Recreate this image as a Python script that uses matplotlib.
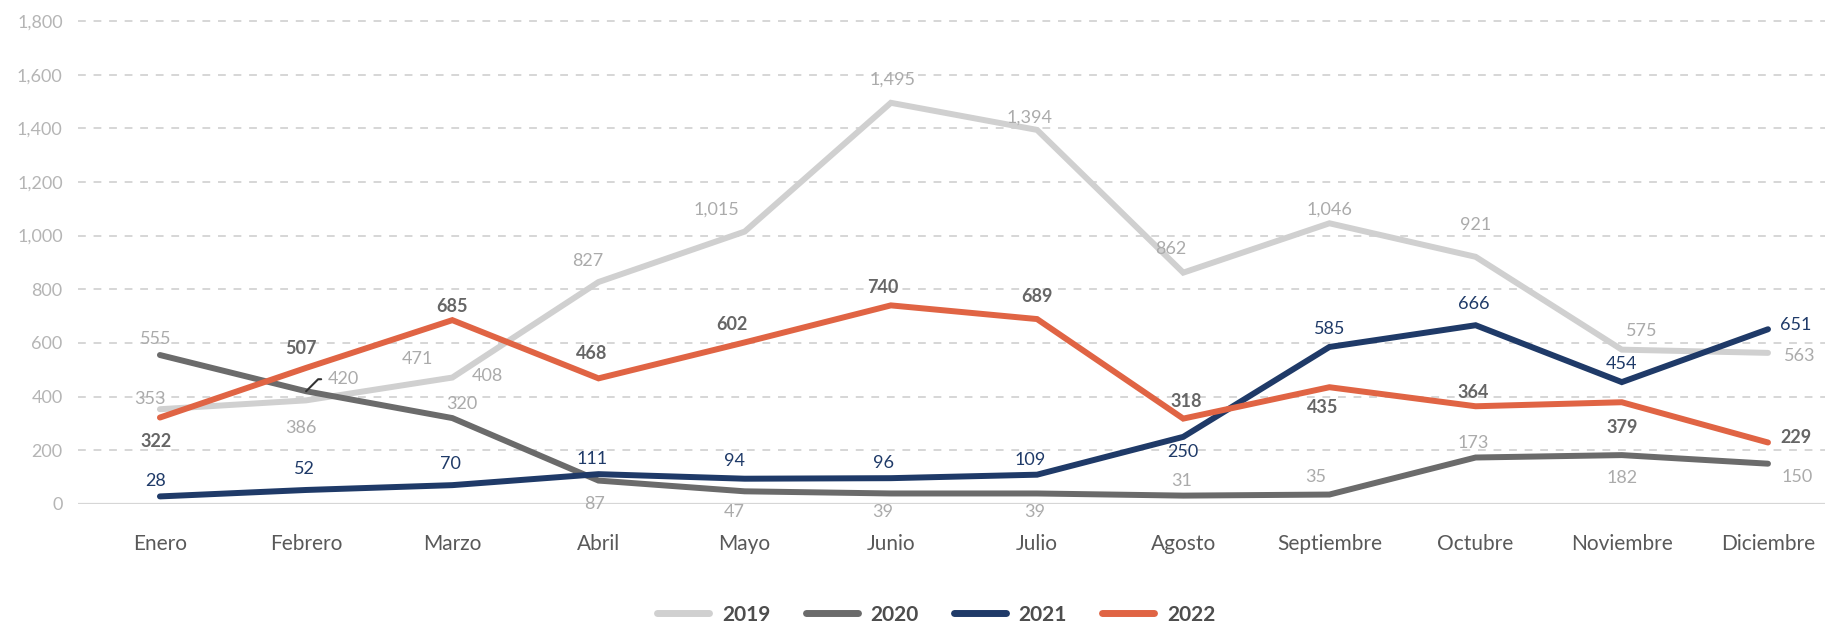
import matplotlib.pyplot as plt
import matplotlib.ticker as mticker
import numpy as np

plt.rcParams['font.family'] = ['Lato', 'DejaVu Sans']

months = ['Enero', 'Febrero', 'Marzo', 'Abril', 'Mayo', 'Junio', 'Julio',
          'Agosto', 'Septiembre', 'Octubre', 'Noviembre', 'Diciembre']
v2019 = [353, 386, 471, 827, 1015, 1495, 1394, 862, 1046, 921, 575, 563]
v2020 = [555, 420, 320, 87, 47, 39, 39, 31, 35, 173, 182, 150]
v2021 = [28, 52, 70, 111, 94, 96, 109, 250, 585, 666, 454, 651]
v2022 = [322, 507, 685, 468, 602, 740, 689, 318, 435, 364, 379, 229]
yticks = [0, 200, 400, 600, 800, 1000, 1200, 1400, 1600, 1800]

# label offsets in pixels (dx, dy)
off2019 = [(-10, 10), (-5, -28), (-35, 19), (-11, 21), (-28, 22), (2, 23),
           (-8, 12), (-12, 24), (0, 14), (0, 32), (20, 19), (32, -3)]
off2020 = [(-4, 16), None, (10, 14), (-4, -23), (-10, -21), (-8, -19),
           (-2, -19), (-2, 15), (-14, 18), (-2, 15), (0, -23), (29, -13)]
off2021 = [(-4, 15), (-2, 21), (-2, 21), (-6, 15), (-10, 18), (-7, 15),
           (-7, 15), (0, -15), (0, 18), (-2, 21), (0, 18), (28, 4)]
off2022 = [(-4, -24), (-5, 19), (0, 14), (-7, 25), (-13, 18), (-8, 18),
           (0, 23), (3, 17), (-7, -20), (-2, 14), (0, -25), (28, 5)]

fig = plt.figure(figsize=(18.25, 6.26), dpi=100)
ax = fig.add_axes([0.0427, 0.195, 0.9573, 0.7715])

x = np.arange(len(months))
series = [
    ('2019', v2019, '#d0d0d0', '#ababab', 'normal', off2019),
    ('2020', v2020, '#6b6b6b', '#ababab', 'normal', off2020),
    ('2021', v2021, '#1f3a68', '#1f3a68', 'normal', off2021),
    ('2022', v2022, '#e06444', '#666666', 'bold', off2022),
]

for name, vals, col, lcol, wt, offs in series:
    ax.plot(x, vals, color=col, lw=4.3, solid_capstyle='round',
            solid_joinstyle='miter', label=name, zorder=3)
    for i, v in enumerate(vals):
        if offs[i] is None:
            continue
        ax.annotate(f'{v:,}', (i, v), xytext=offs[i], textcoords='offset pixels',
                    ha='center', va='center', color=lcol, fontsize=13,
                    fontweight=wt, zorder=5)

# leader-line label for 2020 Febrero
ax.annotate(f'{v2020[1]:,}', (1, v2020[1]), xytext=(22, 12),
            textcoords='offset pixels', ha='left', va='center',
            color='#ababab', fontsize=13, zorder=5,
            arrowprops=dict(arrowstyle='-', color='#333333', lw=1.5,
                            connectionstyle='angle,angleA=0,angleB=45,rad=0',
                            shrinkA=3, shrinkB=0))
# stray label near Marzo
ax.annotate('408', (2, v2019[2]), xytext=(35, 2), textcoords='offset pixels',
            ha='center', va='center', color='#ababab', fontsize=13, zorder=5)

ax.set_xlim(-0.561, 11.39)
ax.set_ylim(0, 1800)
ax.set_xticks(x)
ax.set_xticklabels(months, fontsize=15, color='#595959')
ax.set_yticks(yticks)
ax.yaxis.set_major_formatter(mticker.FuncFormatter(lambda v, p: f'{int(v):,}'))
ax.tick_params(axis='y', length=0, pad=11, labelsize=13, labelcolor='#b5b5b5')
ax.tick_params(axis='x', length=0, pad=22)

for y in yticks[1:]:
    ax.axhline(y, color='#d6d6d6', lw=1.4, ls=(0, (4, 4)), zorder=1, clip_on=False)
ax.axhline(0, color='#d6d6d6', lw=1.6, zorder=1)
for s in ax.spines.values():
    s.set_visible(False)

leg = fig.legend(loc='center', bbox_to_anchor=(0.513, 0.018), ncol=4,
                 frameon=False, handlelength=2.5, handletextpad=0.6,
                 columnspacing=1.7, prop={'size': 15, 'weight': 'bold'})
for t in leg.get_texts():
    t.set_color('#4d4d4d')
for h in leg.get_lines():
    h.set_linewidth(5)
    h.set_solid_capstyle('round')

fig.savefig('out.png', dpi=100)
